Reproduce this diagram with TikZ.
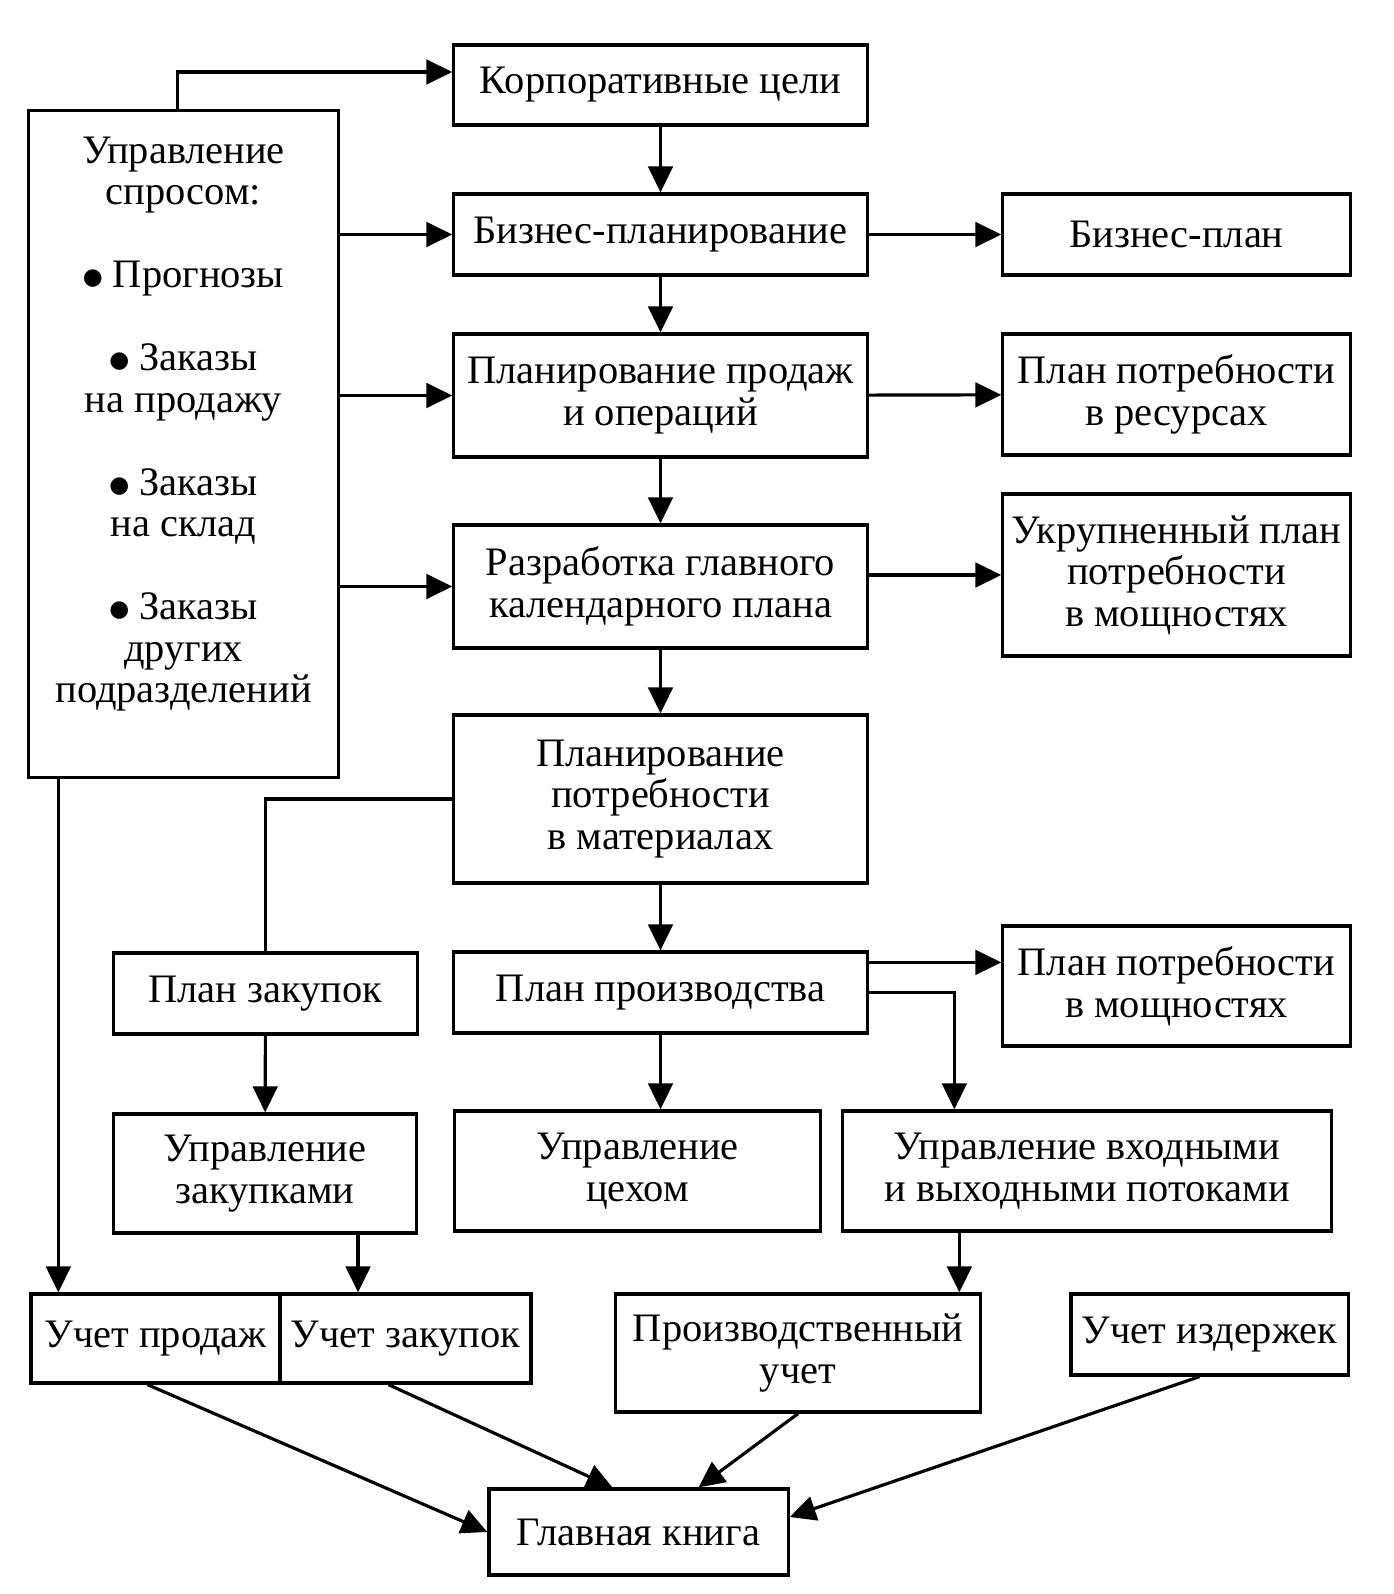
\documentclass[tikz,border=0pt]{standalone}
\usepackage{fontspec}
\setmainfont{Liberation Serif}
\newfontfamily\symfont{DejaVu Sans}
\usetikzlibrary{arrows.meta}
\newcommand{\bul}{\raisebox{0.9pt}{\symfont\fontsize{6.5}{11.8}\selectfont ●}}

\begin{document}
\begin{tikzpicture}[x=0.01cm,y=-0.01cm,font=\fontsize{11.5}{11.8}\selectfont,
		blk/.style={draw,line width=0.9pt,align=center,inner sep=1pt},
		arr/.style={line width=0.9pt,-{Triangle[length=7.4pt,width=7pt]}},
		lnk/.style={line width=0.9pt}]
		\fill[white] (0,0) rectangle (1394,1594);
		\useasboundingbox (0,0) rectangle (1394,1594);
		\node[blk,minimum width=3.09cm,minimum height=6.66cm] (dem) at (183.5,444) {};
		\node[align=center] (demtxt) at (183.5,424) {Управление\\спросом:\\[11.8pt]\bul\ Прогнозы\\[11.8pt]\bul\ Заказы\\на продажу\\[11.8pt]\bul\ Заказы\\на склад\\[11.8pt]\bul\ Заказы\\других\\подразделений};
		\node[blk,minimum width=4.13cm,minimum height=0.80cm] (corp) at (660.5,85) {Корпоративные цели};
		\node[blk,minimum width=4.13cm,minimum height=0.81cm] (bplng) at (660.5,234.5) {Бизнес-планирование};
		\node[blk,minimum width=3.47cm,minimum height=0.81cm] (bplan) at (1176.5,234.5) {Бизнес-план};
		\node[blk,minimum width=4.13cm,minimum height=1.23cm] (sop) at (660.5,395.5) {Планирование продаж\\и операций};
		\node[blk,minimum width=3.47cm,minimum height=1.21cm] (resreq) at (1176.5,394.5) {План потребности\\в ресурсах};
		\node[blk,minimum width=4.13cm,minimum height=1.23cm] (mps) at (660.5,586.5) {Разработка главного\\календарного плана};
		\node[blk,minimum width=3.47cm,minimum height=1.62cm] (rccp) at (1176.5,575) {Укрупненный план\\потребности\\в мощностях};
		\node[blk,minimum width=4.13cm,minimum height=1.68cm] (mrp) at (660.5,799) {Планирование\\потребности\\в материалах};
		\node[blk,minimum width=3.03cm,minimum height=0.81cm] (pplan) at (265.5,993.5) {План закупок};
		\node[blk,minimum width=4.13cm,minimum height=0.81cm] (prod) at (660.5,992.5) {План производства};
		\node[blk,minimum width=3.47cm,minimum height=1.20cm] (crp) at (1176.5,986) {План потребности\\в мощностях};
		\node[blk,minimum width=3.02cm,minimum height=1.19cm] (pmgmt) at (265,1173.5) {Управление\\закупками};
		\node[blk,minimum width=3.65cm,minimum height=1.20cm] (shop) at (637.5,1171) {Управление\\цехом};
		\node[blk,minimum width=4.88cm,minimum height=1.20cm] (io) at (1087,1171) {Управление входными\\и выходными потоками};
		\node[blk,minimum width=2.49cm,minimum height=0.89cm] (sacc) at (155.5,1338.5) {Учет продаж};
		\node[blk,minimum width=2.51cm,minimum height=0.89cm] (pacc) at (405.5,1338.5) {Учет закупок};
		\node[blk,minimum width=3.64cm,minimum height=1.18cm] (macc) at (798,1353) {Производственный\\учет};
		\node[blk,minimum width=2.77cm,minimum height=0.81cm] (cacc) at (1209.5,1334.5) {Учет издержек};
		\node[blk,minimum width=2.99cm,minimum height=0.86cm] (gl) at (638.5,1532) {Главная книга};
		\draw[arr] ([xshift=1.5cm]dem.north west) |- ([yshift=0.13cm]corp.west);
		\draw[arr] (corp) -- (bplng);
		\draw[arr] (dem.east |- bplng.west) -- (bplng.west);
		\draw[arr] (bplng) -- (bplan);
		\draw[arr] (bplng) -- (sop);
		\draw[arr] (dem.east |- sop.west) -- (sop.west);
		\draw[arr] (sop) -- (resreq);
		\draw[arr] (sop) -- (mps);
		\draw[arr] (dem.east |- mps.west) -- (mps.west);
		\draw[arr] (mps.east |- rccp.west) -- (rccp.west);
		\draw[arr] (mps) -- (mrp);
		\draw[lnk] (mrp.west) -| (pplan.north);
		\draw[arr] (mrp) -- (prod);
		\coordinate (pc) at ([yshift=-0.12cm]prod.north east);
		\draw[arr] (pc) -- (pc -| crp.west);
		\draw[arr] (prod.east) -| ([xshift=1.13cm]io.north west);
		\draw[arr] (pplan) -- (pmgmt);
		\draw[arr] (prod.south) -- (prod.south |- shop.north);
		\coordinate (dd) at ([xshift=0.31cm]dem.south west);
		\draw[arr] (dd) -- (dd |- sacc.north);
		\coordinate (pm) at ([xshift=0.93cm]pmgmt.south);
		\draw[arr] (pm) -- (pm |- pacc.north);
		\coordinate (io1) at ([xshift=1.18cm]io.south west);
		\draw[arr] (io1) -- (io1 |- macc.north);
		\draw[arr] ([xshift=-0.08cm]sacc.south) -- (gl.west);
		\draw[arr] ([xshift=-0.17cm]pacc.south) -- ([xshift=-0.26cm]gl.north);
		\draw[arr] (macc.south) -- ([xshift=0.6cm]gl.north);
		\draw[arr] ([xshift=-0.1cm]cacc.south) -- ([yshift=0.15cm]gl.east);
	\end{tikzpicture}
\end{document}
